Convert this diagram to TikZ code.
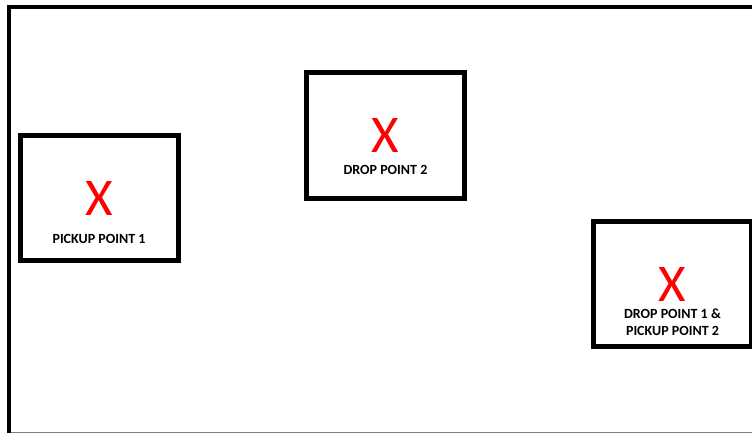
\documentclass[tikz,border=0pt]{standalone}
\usepackage{fontspec}
\setmainfont{Carlito}
\usetikzlibrary{positioning}

\tikzset{
  spot/.style={draw, line width=5pt, minimum width=158pt, minimum height=125pt, inner sep=0pt},
  cross/.style={text=red, font=\fontsize{53}{53}\selectfont, inner sep=0pt},
  tag/.style={font=\bfseries\fontsize{14}{17}\selectfont, align=center, inner sep=0pt},
}

\begin{document}
\begin{tikzpicture}[x=1pt,y=-1pt]
	% 1. page size and the outer frame
	\useasboundingbox (0,0) rectangle (752,433);
	\clip (0,0) rectangle (752,433);
	\draw[line width=4pt] (9,440) -- (9,7) -- (760,7);
	\draw[gray, line width=1pt] (11,432) -- (760,432);
	
	% 2. the three marked points
	\node[spot] (pick1) at (99,198) {};
	\node[spot] (drop2) at (385.5,135.5) {};
	\node[spot] (drop1) at (672.5,284) {};
	
	% 3. a red X in each box
	\node[cross] (x1) at (pick1.center) {X};
	\node[cross] (x2) at (drop2.center) {X};
	\node[cross] (x3) at (drop1.center) {X};
	
	% 4. labels under the X
	\node[tag, below=19pt of x1] (t1) {PICKUP POINT 1};
	\node[tag, below=12.5pt of x2] (t2) {DROP POINT 2};
	\node[tag, below=7pt of x3] (t3) {DROP POINT 1 \&\\PICKUP POINT 2};
\end{tikzpicture}
\end{document}
